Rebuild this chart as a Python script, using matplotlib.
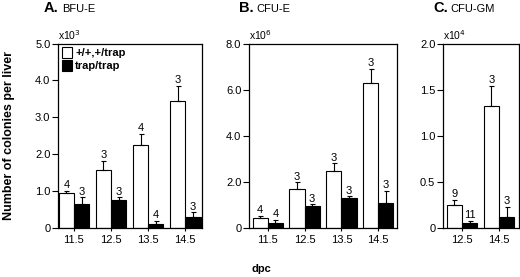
import matplotlib
matplotlib.use("Agg")
import matplotlib.pyplot as plt
from matplotlib.ticker import FuncFormatter

plt.rcParams['font.family'] = ['Liberation Sans', 'DejaVu Sans']

# data (colonies per liver, in units of the x10^n multiplier)
days_a = ['11.5', '12.5', '13.5', '14.5']
wt_a = [0.95, 1.56, 2.25, 3.43]
wt_a_err = [0.05, 0.25, 0.30, 0.42]
wt_a_n = ['4', '3', '4', '3']
tr_a = [0.64, 0.75, 0.10, 0.28]
tr_a_err = [0.18, 0.07, 0.08, 0.14]
tr_a_n = ['3', '3', '4', '3']

days_b = ['11.5', '12.5', '13.5', '14.5']
wt_b = [0.43, 1.69, 2.47, 6.29]
wt_b_err = [0.07, 0.28, 0.32, 0.61]
wt_b_n = ['4', '3', '3', '3']
tr_b = [0.21, 0.93, 1.29, 1.07]
tr_b_err = [0.12, 0.08, 0.07, 0.54]
tr_b_n = ['4', '3', '3', '3']

days_c = ['12.5', '14.5']
wt_c = [0.25, 1.32]
wt_c_err = [0.05, 0.22]
wt_c_n = ['9', '3']
tr_c = [0.047, 0.12]
tr_c_err = [0.03, 0.11]
tr_c_n = ['11', '3']

series_labels = ['+/+,+/trap', 'trap/trap']

W, H = 520, 277
fig = plt.figure(figsize=(W / 100, H / 100), dpi=100)

def px_axes(l, r, t, b):
    return fig.add_axes([l / W, 1 - b / H, (r - l) / W, (b - t) / H])

w = 0.41
fs = 8

def fmt(v, pos):
    return '0' if v == 0 else '%.1f' % v

def panel(ax, days, wt, wte, wtn, tr, tre, trn, xlim, ymax, yticks, mult, legend=False):
    x = list(range(len(days)))
    xw = [i - w / 2 for i in x]
    xt = [i + w / 2 for i in x]
    b1 = ax.bar(xw, wt, w, color='white', edgecolor='black', linewidth=0.8, label=series_labels[0])
    b2 = ax.bar(xt, tr, w, color='black', edgecolor='black', linewidth=0.8, label=series_labels[1])
    for xs, vals, errs, ns in [(xw, wt, wte, wtn), (xt, tr, tre, trn)]:
        ax.errorbar(xs, vals, yerr=[[0] * len(vals), errs], fmt='none', ecolor='black',
                    elinewidth=0.8, capsize=1.8, capthick=0.8)
        for xi, v, e, n in zip(xs, vals, errs, ns):
            ax.annotate(n, (xi, v + e), xytext=(0, 0.5), textcoords='offset points',
                        ha='center', va='bottom', fontsize=fs)
    ax.set_xlim(*xlim)
    ax.set_ylim(0, ymax)
    ax.set_xticks(x)
    ax.set_xticklabels(days, fontsize=fs)
    ax.set_yticks(yticks)
    ax.yaxis.set_major_formatter(FuncFormatter(fmt))
    ax.tick_params(axis='y', direction='out', length=4, width=0.8, labelsize=fs, pad=1.5)
    ax.tick_params(axis='x', direction='out', length=2.5, width=0.8, pad=2.5)
    for s in ax.spines.values():
        s.set_linewidth(0.9)
    ax.text(0, 1.01, 'x10$^{%d}$' % mult, transform=ax.transAxes, fontsize=7.5, va='bottom', ha='left')
    if legend:
        ax.legend(handles=[b1, b2], loc='upper left', frameon=False,
                  prop={'weight': 'bold', 'size': fs}, handlelength=0.9, handleheight=1.1,
                  handletextpad=0.3, labelspacing=0.15, borderaxespad=0.15, borderpad=0.2)
    return ax

axA = px_axes(58, 202, 43.5, 227.7)
axB = px_axes(249, 397, 43.5, 227.7)
axC = px_axes(443, 519, 43.5, 227.7)

panel(axA, days_a, wt_a, wt_a_err, wt_a_n, tr_a, tr_a_err, tr_a_n, (-0.43, 3.45), 5.0,
      [0, 1, 2, 3, 4, 5], 3, legend=True)
panel(axB, days_b, wt_b, wt_b_err, wt_b_n, tr_b, tr_b_err, tr_b_n, (-0.51, 3.51), 8.0,
      [0, 2, 4, 6, 8], 6)
panel(axC, days_c, wt_c, wt_c_err, wt_c_n, tr_c, tr_c_err, tr_c_n, (-0.51, 1.54), 2.0,
      [0, 0.5, 1.0, 1.5, 2.0], 4)

# panel headings: bold letter, regular name
for xp, letter, name in [(44, 'A.', 'BFU-E'), (239, 'B.', 'CFU-E'), (433, 'C.', 'CFU-GM')]:
    t = fig.text(xp / W, 1 - 12.5 / H, letter, fontsize=10.5, fontweight='bold', ha='left', va='baseline')
    fig.canvas.draw()
    ext = t.get_window_extent()
    fig.text((ext.x1 + 3) / W, 1 - 12.5 / H, name, fontsize=8, ha='left', va='baseline')

fig.text(9 / W, 1 - 135 / H, 'Number of colonies per liver', rotation=90, fontsize=9,
         fontweight='bold', ha='center', va='center')
fig.text(261 / W, 1 - 269 / H, 'dpc', fontsize=8, fontweight='bold', ha='center', va='center')

fig.savefig('out.png', dpi=100)
